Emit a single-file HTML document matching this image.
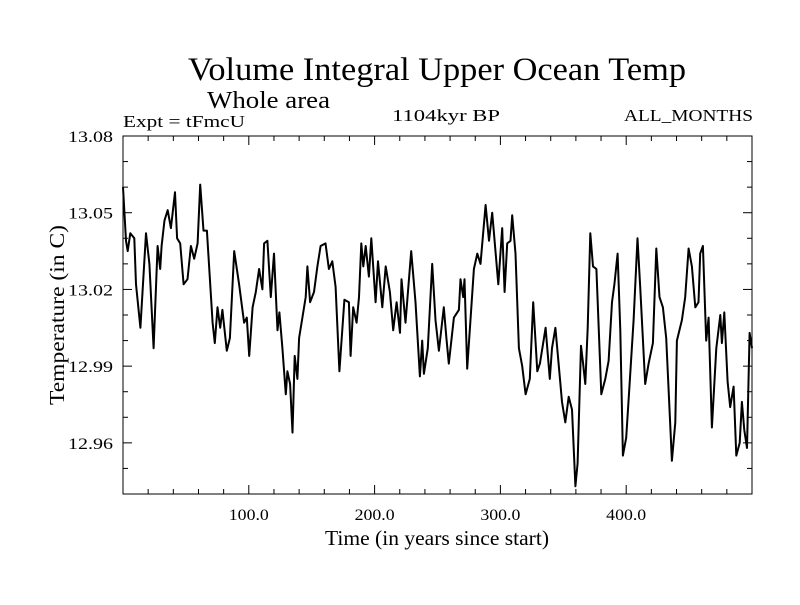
<!DOCTYPE html>
<html><head><meta charset="utf-8"><style>
body{margin:0;background:#fff;}
svg text{font-family:"Liberation Serif",serif;fill:#000;}
</style></head><body>
<svg id="chart" width="800" height="600" xmlns="http://www.w3.org/2000/svg">
<text x="188" y="80" font-size="33" textLength="498" lengthAdjust="spacingAndGlyphs">Volume Integral Upper Ocean Temp</text>
<text x="207" y="108" font-size="24" textLength="123" lengthAdjust="spacingAndGlyphs">Whole area</text>
<text x="123" y="127" font-size="17" textLength="122" lengthAdjust="spacingAndGlyphs">Expt = tFmcU</text>
<text x="392" y="121" font-size="17" textLength="108" lengthAdjust="spacingAndGlyphs">1104kyr BP</text>
<text x="624" y="121" font-size="17" textLength="129" lengthAdjust="spacingAndGlyphs">ALL_MONTHS</text>
<text x="325" y="545" font-size="21" textLength="224" lengthAdjust="spacingAndGlyphs">Time (in years since start)</text>
<text transform="translate(64,405) rotate(-90)" font-size="21" textLength="180" lengthAdjust="spacingAndGlyphs">Temperature (in C)</text>
<g id="axes"></g>
<path id="series" fill="none" stroke="#000" stroke-width="2" stroke-linejoin="round"/>
<rect x="123" y="136" width="629" height="358" fill="none" stroke="#000" stroke-width="1"/>
</svg>
<script>
const years=[0,2.4,3.7,5.8,9,10.3,13.8,18.3,21,24.3,27.5,29.6,30.7,33,35.5,38.1,41.3,43,45.5,48.2,51.3,54,56.6,59.3,61.4,64,66.7,71.2,73,75.1,77.3,79,82.5,85,88.4,92.3,96.3,98.4,100.3,103,105.6,108.2,110.8,112.2,114.8,117.5,120,122.8,124.3,126.7,129.4,130.7,132.8,134.7,136.5,138.6,140,142.6,145.2,146.6,148.7,151.8,154.5,157.1,161,163.7,166.4,169,172,176,179.6,180.9,183,185.7,187.6,189.4,191,192.9,195.5,197.4,200.8,202.7,206.1,208.8,212.2,214.8,217.5,220.2,221.4,224.6,229.1,232.5,236,237.8,239.2,242.3,245.8,248.4,251.1,255,257.1,259,263,267,268.3,270.4,271.5,273.6,278.9,281.6,284.2,288.2,290.9,293.5,298.3,301.4,303.3,305.4,308,309.4,312,314.7,317.3,320,323.4,326.1,329.3,331.4,335.9,339.3,341,343.7,346.3,349,351.6,354.3,356.9,359.6,361.4,364.1,365.7,367.5,369.4,371.5,373.6,376.3,380.2,383.4,386,388.7,390.6,393.2,395.3,397.4,400,402.7,405.9,409,411.1,415.1,417.8,421.2,423.9,426.5,429.2,431.8,436.3,439,440.3,444.3,446.9,449.6,452.2,454.9,457.5,458.8,461,463.6,465.5,468.1,471.6,474.8,476.1,478,480.6,482.7,485.4,487.5,490.2,492,493.9,496,498.1,500];
const temps=[13.060,13.039,13.035,13.042,13.040,13.022,13.005,13.042,13.030,12.997,13.037,13.028,13.037,13.047,13.051,13.044,13.058,13.040,13.038,13.022,13.024,13.037,13.032,13.038,13.061,13.043,13.043,13.007,12.999,13.013,13.005,13.012,12.996,13.001,13.035,13.022,13.007,13.009,12.994,13.013,13.019,13.028,13.020,13.038,13.039,13.017,13.034,13.004,13.011,12.997,12.979,12.988,12.983,12.964,12.994,12.985,13.001,13.009,13.017,13.029,13.015,13.019,13.029,13.037,13.038,13.028,13.031,13.021,12.988,13.016,13.015,12.994,13.013,13.007,13.017,13.038,13.029,13.037,13.025,13.040,13.015,13.031,13.013,13.029,13.019,13.004,13.015,13.003,13.024,13.007,13.035,13.015,12.986,13.000,12.987,12.997,13.030,13.008,12.996,13.013,13.001,12.991,13.009,13.012,13.024,13.017,13.024,12.989,13.028,13.034,13.030,13.053,13.039,13.050,13.022,13.044,13.019,13.038,13.039,13.049,13.034,12.997,12.990,12.979,12.985,13.015,12.988,12.991,13.005,12.985,12.997,13.005,12.991,12.976,12.968,12.978,12.973,12.943,12.952,12.998,12.991,12.983,13.005,13.042,13.029,13.028,12.979,12.985,12.992,13.015,13.022,13.034,13.004,12.955,12.962,12.983,13.008,13.040,13.021,12.983,12.991,12.999,13.036,13.017,13.013,13.001,12.953,12.968,13.000,13.008,13.017,13.036,13.029,13.013,13.015,13.034,13.037,13.000,13.009,12.966,12.997,13.010,12.999,13.011,12.984,12.974,12.982,12.955,12.960,12.976,12.965,12.958,13.003,12.997];
const yTickValues=[12.96,12.99,13.02,13.05,13.08];
const yTickLabels=["12.96","12.99","13.02","13.05","13.08"];
const xTickValues=[100,200,300,400];
const xTickLabels=["100.0","200.0","300.0","400.0"];
const X0=123,X1=752,Y0=494,Y1=136,XMIN=0,XMAX=500,YMIN=12.94,YMAX=13.08;
function sx(v){return X0+(v-XMIN)/(XMAX-XMIN)*(X1-X0);}
function sy(v){return Y0-(v-YMIN)/(YMAX-YMIN)*(Y0-Y1);}
const NS="http://www.w3.org/2000/svg";
const g=document.getElementById('axes');
function line(x1,y1,x2,y2,name){const l=document.createElementNS(NS,'line');l.setAttribute('x1',x1);l.setAttribute('y1',y1);l.setAttribute('x2',x2);l.setAttribute('y2',y2);l.setAttribute('stroke','#000');l.setAttribute('stroke-width','1');


g.appendChild(l);}
function text(x,y,s,anchor,len,name){const t=document.createElementNS(NS,'text');t.setAttribute('x',x);t.setAttribute('y',y);t.setAttribute('font-size','16');t.setAttribute('text-anchor',anchor);t.setAttribute('textLength',len);t.setAttribute('lengthAdjust','spacingAndGlyphs');t.textContent=s;


g.appendChild(t);}
for(let v=20;v<500;v+=20){const x=sx(v);const L=(v%100===0)?9:5;line(x,Y0,x,Y0-L,'x-tick');line(x,Y1,x,Y1+L,'x-tick-top');}
for(let i=1;i<14;i++){const v=YMIN+i*0.01;const y=sy(v);const L=(i%3===2)?9:5;line(X0,y,X0+L,y,'y-tick');line(X1,y,X1-L,y,'y-tick-right');}
yTickValues.forEach((v,i)=>text(113,sy(v)+6,yTickLabels[i],'end',45,'y-tick-label'));
xTickValues.forEach((v,i)=>text(sx(v),520,xTickLabels[i],'middle',40,'x-tick-label'));
let d='';years.forEach((yr,i)=>{d+=(i?'L':'M')+sx(yr).toFixed(1)+','+sy(temps[i]).toFixed(1);});
document.getElementById('series').setAttribute('d',d);
</script>
</body></html>
